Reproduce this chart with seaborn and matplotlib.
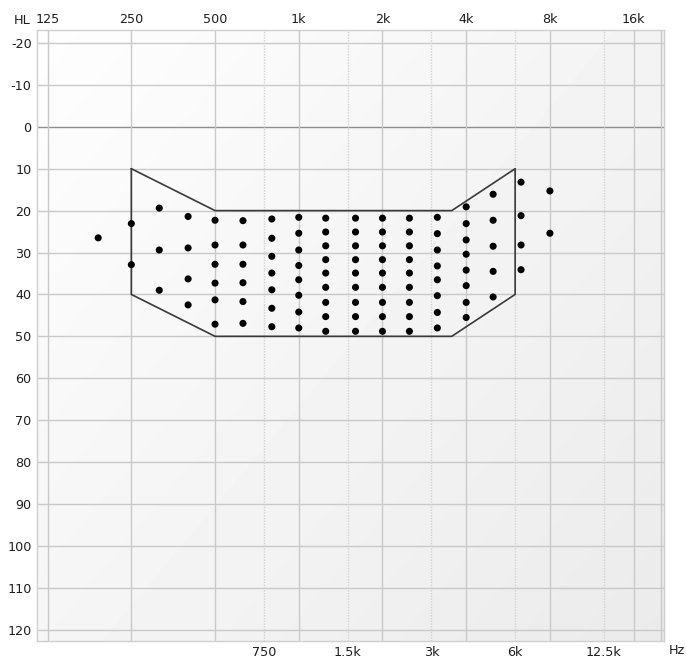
import numpy as np
import pandas as pd
import matplotlib
matplotlib.use("Agg")
import matplotlib.pyplot as plt
from matplotlib.ticker import NullLocator
import seaborn as sns

# ---------------- data ----------------
top_freqs = [125, 250, 500, 1000, 2000, 4000, 8000, 16000]
top_labels = ["125", "250", "500", "1k", "2k", "4k", "8k", "16k"]
bottom_freqs = [750, 1500, 3000, 6000, 12500]
bottom_labels = ["750", "1.5k", "3k", "6k", "12.5k"]
hl_ticks = list(range(-20, 121, 10))

poly_freq = [250, 500, 3550, 6000, 6000, 3550, 500, 250, 250]
poly_db = [10, 20, 20, 10, 40, 50, 50, 40, 10]

col_freqs = [190, 250, 315, 400, 500, 630, 800, 1000, 1250, 1600, 2000,
             2500, 3150, 4000, 5000, 6300, 8000]
col_dbs = [
    [26.5],
    [23.1, 32.9],
    [19.4, 29.4, 39.0],
    [21.4, 28.9, 36.3, 42.5],
    [22.3, 28.2, 32.8, 37.3, 41.3, 47.1],
    [22.4, 28.2, 32.8, 37.2, 41.7, 46.9],
    [22.0, 26.6, 30.9, 34.9, 38.9, 43.3, 47.7],
    [21.6, 25.4, 29.4, 33.1, 36.5, 40.2, 44.2, 48.0],
    [21.8, 25.1, 28.4, 31.7, 34.9, 38.3, 41.9, 45.3, 48.8],
    [21.8, 25.1, 28.4, 31.7, 34.9, 38.3, 41.9, 45.3, 48.8],
    [21.8, 25.1, 28.4, 31.7, 34.9, 38.3, 41.9, 45.3, 48.8],
    [21.8, 25.1, 28.4, 31.7, 34.9, 38.3, 41.9, 45.3, 48.8],
    [21.6, 25.5, 29.4, 33.2, 36.5, 40.3, 44.3, 48.0],
    [19.1, 23.1, 27.0, 30.4, 34.2, 37.9, 41.9, 45.5],
    [16.1, 22.3, 28.5, 34.5, 40.6],
    [13.2, 21.2, 28.2, 34.1],
    [15.3, 25.4],
]

rows = [(f, d) for f, ds in zip(col_freqs, col_dbs) for d in ds]
df = pd.DataFrame(rows, columns=["Hz", "HL"])

# ---------------- style ----------------
sns.set_style("white")
plt.rcParams['font.family'] = ['DejaVu Sans']
txt_color = "#1e1e1e"
fs = 9.2

W, H = 686, 659
fig = plt.figure(figsize=(W / 100, H / 100), dpi=100)
rect = [36.5 / W, 1 - 641 / H, (664 - 36.5) / W, (641 - 30) / H]

# background gradient
bg = fig.add_axes(rect, zorder=0)
yy, xx = np.mgrid[0:1:200j, 0:1:200j]
grad = 0.995 - 0.075 * (0.55 * xx + 0.45 * yy)
bg.imshow(grad, cmap="gray", vmin=0, vmax=1, extent=[0, 1, 0, 1],
          aspect="auto", origin="upper", interpolation="bilinear")
bg.axis("off")

ax = fig.add_axes(rect, zorder=1)
ax.patch.set_alpha(0)
ax.set_xscale("log")

# grid
for h in hl_ticks:
    ax.axhline(h, color="#8e8e8e" if h == 0 else "#c9c9c9", lw=1.0, zorder=1)
for f in top_freqs + [20000]:
    ax.axvline(f, color="#c9c9c9", lw=1.0, zorder=1)
for f in bottom_freqs:
    ax.axvline(f, color="#d2d2d2", lw=1.0, ls=(0, (1, 1)), zorder=1)

# polygon
sns.lineplot(x=poly_freq, y=poly_db, sort=False, estimator=None,
             color="#3a3a3a", lw=1.2, ax=ax, zorder=2)

# points
sns.scatterplot(data=df, x="Hz", y="HL", color="black", s=26,
                edgecolor="none", ax=ax, zorder=3, legend=False)

ax.set_xlim(114.0, 20580)
ax.set_ylim(122.7, -23.1)
ax.set_xlabel("")
ax.set_ylabel("")

ax.set_xticks(bottom_freqs)
ax.set_xticklabels(bottom_labels)
ax.xaxis.set_minor_locator(NullLocator())
ax.set_yticks(hl_ticks)
ax.set_yticklabels([str(h) for h in hl_ticks])
ax.tick_params(axis="x", length=0, pad=3.5, labelsize=fs, labelcolor=txt_color)
ax.tick_params(axis="y", length=0, pad=3.5, labelsize=fs, labelcolor=txt_color)

sec = ax.secondary_xaxis("top")
sec.set_xticks(top_freqs)
sec.set_xticklabels(top_labels)
sec.xaxis.set_minor_locator(NullLocator())
sec.tick_params(length=0, pad=3, labelsize=fs, labelcolor=txt_color)
for s in sec.spines.values():
    s.set_visible(False)

for s in ax.spines.values():
    s.set_color("#cfcfcf")
    s.set_linewidth(1.0)

fig.text(14 / W, 1 - 20 / H, "HL", ha="left", va="center",
         fontsize=fs, color=txt_color)
fig.text(685 / W, 1 - 651 / H, "Hz", ha="right", va="center",
         fontsize=fs, color=txt_color)

fig.savefig("out.png", dpi=100)
